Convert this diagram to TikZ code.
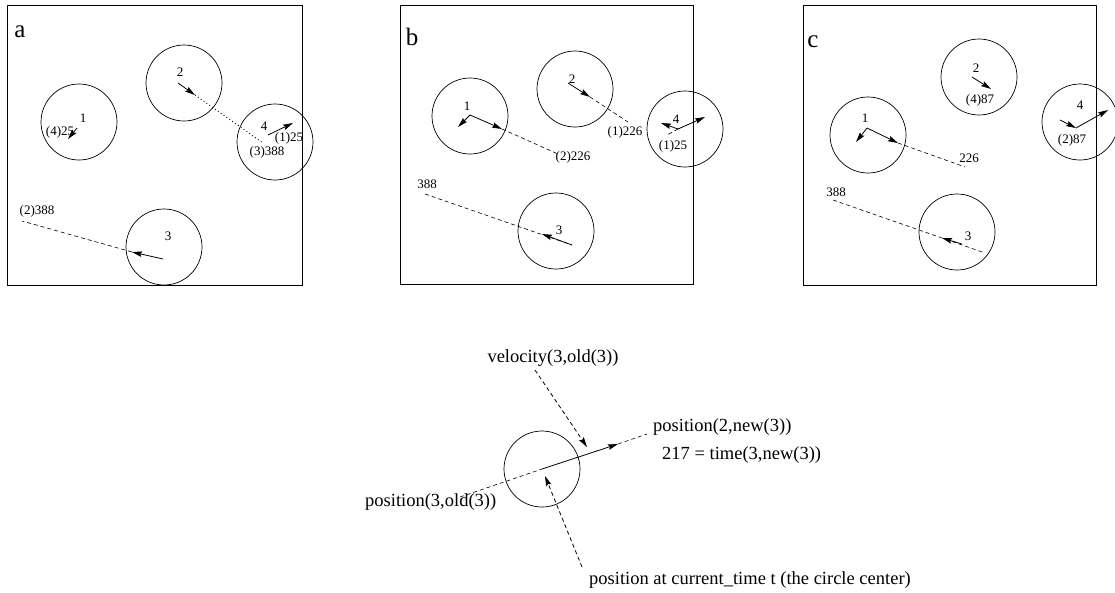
\documentclass[tikz,border=0pt]{standalone}
\usepackage{fontspec}
\setmainfont{Liberation Serif}
\usetikzlibrary{arrows.meta}
\begin{document}
\begin{tikzpicture}[x=1pt,y=-1pt,
  ball/.style={draw, circle, minimum size=76pt, inner sep=0pt, line width=0.7pt},
  lbl/.style={inner sep=0pt, font=\fontsize{13}{13}\selectfont},
  big/.style={inner sep=0pt, font=\fontsize{18.5}{20}\selectfont},
  letter/.style={inner sep=0pt, font=\fontsize{25}{25}\selectfont},
  frame/.style={draw, line width=0.9pt, inner sep=0pt, anchor=north west},
  vel/.style={-{Stealth[length=10pt,width=5.5pt,inset=1.5pt]}, line width=0.8pt},
  trail/.style={dash pattern=on 4pt off 3pt, line width=0.6pt},
  dots/.style={dash pattern=on 1pt off 2.5pt, line width=0.8pt}]
\useasboundingbox (0,0) rectangle (1115,592);

% ---------- panel a ----------
\node[frame, minimum width=295pt, minimum height=280pt] (pa) at (7,5) {};
\node[letter] (la) at (20,32) {a};
\node[ball] (a1) at (79,122) {};
\node[ball] (a2) at (184,83) {};
\node[ball] (a4) at (275,142) {};
\node[ball] (a3) at (164,247) {};
\coordinate (a1s) at (77,128); \coordinate (a1e) at (68,139);
\coordinate (a2s) at (178,83); \coordinate (a2e) at (195,95); \coordinate (a2p) at (263,143);
\coordinate (a4s) at (268,135); \coordinate (a4e) at (293,123);
\coordinate (a3s) at (163,259); \coordinate (a3e) at (132,252); \coordinate (a3p) at (22,221);
\draw[vel] (a1s) -- (a1e);
\draw[vel] (a2s) -- (a2e);
\draw[dots] (a2e) -- (a2p);
\draw[vel] (a4s) -- (a4e);
\draw[vel] (a3s) -- (a3e);
\draw[trail] (a3e) -- (a3p);
\node[lbl] (ta1) at (83,118) {1};
\node[lbl] (ta1b) at (60,132) {(4)25};
\node[lbl] (ta2) at (180,72) {2};
\node[lbl] (ta4) at (264,126) {4};
\node[lbl] (ta4b) at (289,138) {(1)25};
\node[lbl] (ta4c) at (267,152) {(3)388};
\node[lbl] (ta3) at (168,236) {3};
\node[lbl] (ta3b) at (37,211) {(2)388};

% ---------- panel b ----------
\node[frame, minimum width=293pt, minimum height=279pt] (pb) at (400,5) {};
\node[letter] (lb) at (412,37) {b};
\node[ball] (b1) at (470,116) {};
\node[ball] (b2) at (575,89) {};
\node[ball] (b4) at (685,129) {};
\node[ball] (b3) at (556,231) {};
\coordinate (b1o) at (470,115); \coordinate (b1l) at (458,127); \coordinate (b1r) at (502,129); \coordinate (b1p) at (558,154);
\coordinate (b2s) at (568,83); \coordinate (b2e) at (590,97); \coordinate (b2p) at (628,122);
\coordinate (b4o) at (678,129); \coordinate (b4l) at (661,123); \coordinate (b4r) at (705,117); \coordinate (b4d) at (667,135);
\coordinate (b3s) at (572,245); \coordinate (b3e) at (542,234); \coordinate (b3p) at (425,194);
\draw[vel] (b1o) -- (b1l);
\draw[vel] (b1o) -- (b1r);
\draw[trail] (b1r) -- (b1p);
\draw[vel] (b2s) -- (b2e);
\draw[trail] (b2e) -- (b2p);
\draw[vel] (b4o) -- (b4l);
\draw[vel] (b4o) -- (b4r);
\draw[trail] (b4o) -- (b4d);
\draw[trail] (b3p) -- (b3s);
\draw[vel] (b3s) -- (b3e);
\node[lbl] (tb1) at (467,106) {1};
\node[lbl] (tb1b) at (573,157) {(2)226};
\node[lbl] (tb2) at (572,79) {2};
\node[lbl] (tb2b) at (625,132) {(1)226};
\node[lbl] (tb4) at (676,119) {4};
\node[lbl] (tb4b) at (673,146) {(1)25};
\node[lbl] (tb3) at (559,230) {3};
\node[lbl] (tb3b) at (427,184) {388};

% ---------- panel c ----------
\node[frame, minimum width=293pt, minimum height=280pt] (pc) at (803,5) {};
\node[letter] (lc) at (813,42) {c};
\node[ball] (c1) at (868,135) {};
\node[ball] (c2) at (979,77) {};
\node[ball] (c4) at (1080,122) {};
\node[ball] (c3) at (957,232) {};
\coordinate (c1o) at (867,128); \coordinate (c1l) at (856,142); \coordinate (c1r) at (898,143); \coordinate (c1p) at (965,167);
\coordinate (c2s) at (972,77); \coordinate (c2e) at (991,89);
\coordinate (c4s) at (1060,120); \coordinate (c4o) at (1076,128); \coordinate (c4r) at (1108,110);
\coordinate (c3s) at (962,244); \coordinate (c3e) at (942,238); \coordinate (c3p) at (833,200); \coordinate (c3q) at (985,253);
\draw[vel] (c1o) -- (c1l);
\draw[vel] (c1o) -- (c1r);
\draw[trail] (c1r) -- (c1p);
\draw[vel] (c2s) -- (c2e);
\draw[vel] (c4s) -- (c4o);
\draw[vel] (c4o) -- (c4r);
\draw[trail] (c3p) -- (c3q);
\draw[vel] (c3s) -- (c3e);
\node[lbl] (tc1) at (865,118) {1};
\node[lbl] (tc1b) at (969,158) {226};
\node[lbl] (tc2) at (976,68) {2};
\node[lbl] (tc2b) at (980,100) {(4)87};
\node[lbl] (tc4) at (1080,105) {4};
\node[lbl] (tc4b) at (1072,140) {(2)87};
\node[lbl] (tc3) at (968,236) {3};
\node[lbl] (tc3b) at (836,192) {388};

% ---------- bottom explanation ----------
\node[ball] (bc) at (542,469) {};
\coordinate (bo) at (542,469);
\coordinate (bnew) at (618,444); \coordinate (bnewp) at (647,434); \coordinate (boldp) at (460,497);
\coordinate (vs) at (535,370); \coordinate (ve) at (587,447);
\coordinate (ts) at (582,567); \coordinate (te) at (545,476);
\draw[trail] (boldp) -- (bo);
\draw[vel] (bo) -- (bnew);
\draw[trail] (bnew) -- (bnewp);
\draw[trail, vel] (vs) -- (ve);
\draw[trail, vel] (ts) -- (te);
\node[big] (tv) at (553,358) {velocity(3,old(3))};
\node[big, anchor=west] (tn) at (653,427) {position(2,new(3))};
\node[big, anchor=west] (tt) at (662,455) {217 = time(3,new(3))};
\node[big, anchor=west] (to) at (365,502) {position(3,old(3))};
\node[big, anchor=west] (tp) at (589,580) {position at current\_time t (the circle center)};
\end{tikzpicture}
\end{document}
